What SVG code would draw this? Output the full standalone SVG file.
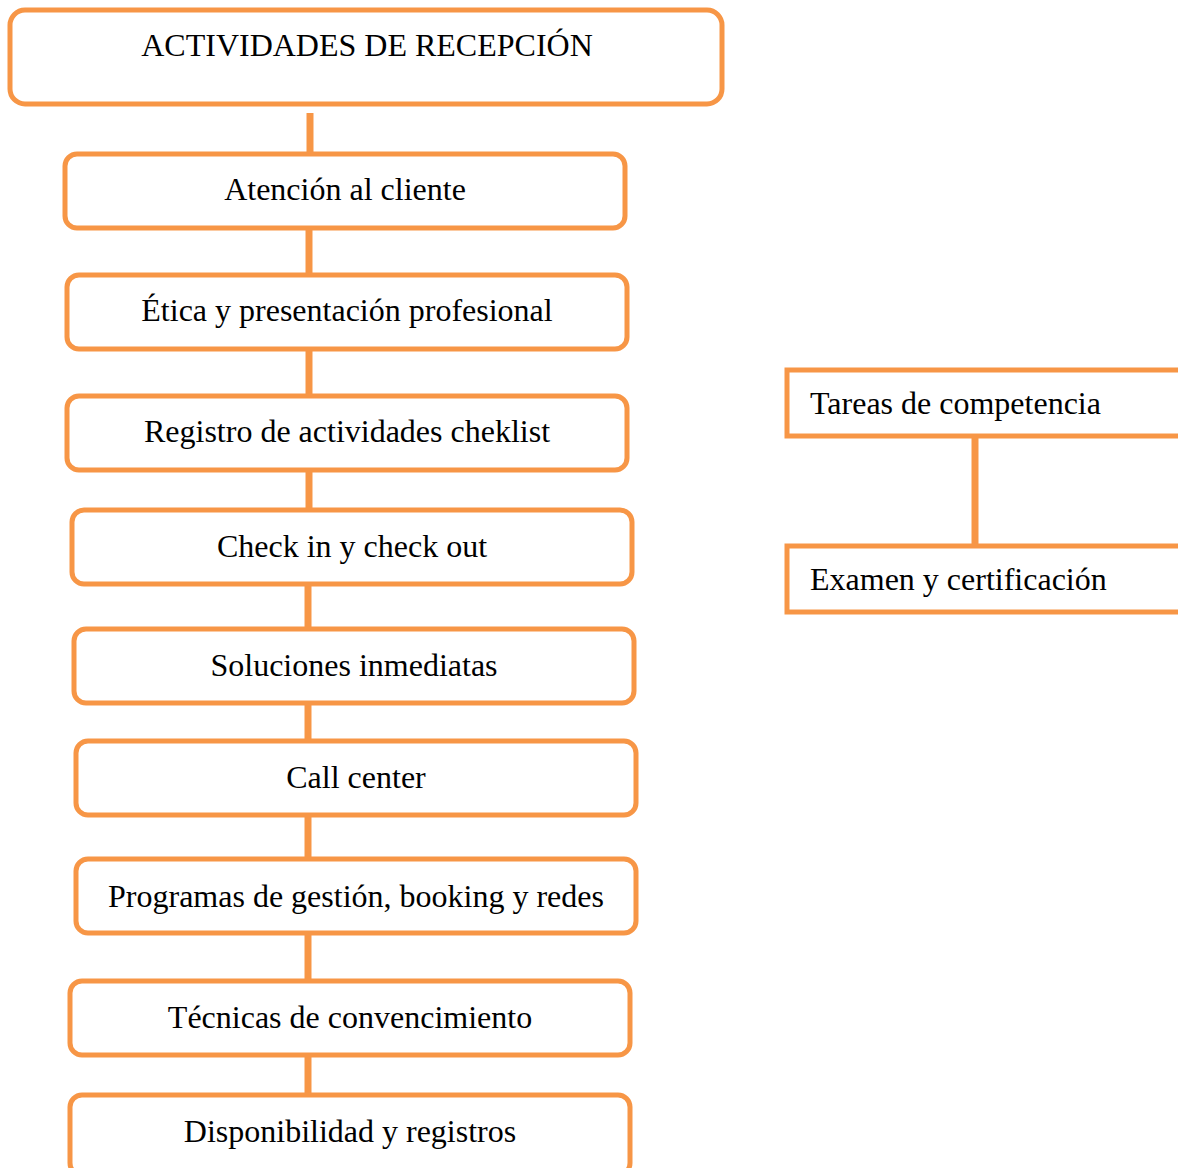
<svg xmlns="http://www.w3.org/2000/svg" width="1178" height="1168" viewBox="0 0 1178 1168">
<style>
.b{fill:#fff;stroke:#F79646;stroke-width:5}
.t{font-family:"Liberation Serif","Times New Roman",serif;font-size:32px;fill:#000}
.c{text-anchor:middle}
.l{stroke:#F79646;stroke-width:7;fill:none}
</style>
<rect width="1178" height="1168" fill="#fff"/>
<g id="connectors">
<line class="l" x1="310" y1="113" x2="310" y2="156"/>
<line class="l" x1="309" y1="228" x2="309" y2="277"/>
<line class="l" x1="309" y1="349" x2="309" y2="398"/>
<line class="l" x1="309" y1="470" x2="309" y2="512"/>
<line class="l" x1="308" y1="584" x2="308" y2="631"/>
<line class="l" x1="308" y1="703" x2="308" y2="743"/>
<line class="l" x1="308" y1="815" x2="308" y2="861"/>
<line class="l" x1="308" y1="933" x2="308" y2="983"/>
<line class="l" x1="308" y1="1055" x2="308" y2="1097"/>
<line class="l" x1="975" y1="436" x2="975" y2="548" stroke-width="6"/>
</g>
<g id="n0"><rect class="b" x="10" y="10" width="712" height="94" rx="15"/><text class="t c" x="367" y="56">ACTIVIDADES DE RECEPCIÓN</text></g>
<g id="n1"><rect class="b" x="65" y="154" width="560" height="74" rx="12"/><text class="t c" x="345" y="200">Atención al cliente</text></g>
<g id="n2"><rect class="b" x="67" y="275" width="560" height="74" rx="12"/><text class="t c" x="347" y="321">Ética y presentación profesional</text></g>
<g id="n3"><rect class="b" x="67" y="396" width="560" height="74" rx="12"/><text class="t c" x="347" y="442">Registro de actividades cheklist</text></g>
<g id="n4"><rect class="b" x="72" y="510" width="560" height="74" rx="12"/><text class="t c" x="352" y="557">Check in y check out</text></g>
<g id="n5"><rect class="b" x="74" y="629" width="560" height="74" rx="12"/><text class="t c" x="354" y="676">Soluciones inmediatas</text></g>
<g id="n6"><rect class="b" x="76" y="741" width="560" height="74" rx="12"/><text class="t c" x="356" y="788">Call center</text></g>
<g id="n7"><rect class="b" x="76" y="859" width="560" height="74" rx="12"/><text class="t c" x="356" y="907">Programas de gestión, booking y redes</text></g>
<g id="n8"><rect class="b" x="70" y="981" width="560" height="74" rx="12"/><text class="t c" x="350" y="1028">Técnicas de convencimiento</text></g>
<g id="n9"><rect class="b" x="70" y="1095" width="560" height="80" rx="12"/><text class="t c" x="350" y="1142">Disponibilidad y registros</text></g>
<g id="n10"><rect class="b" x="787" y="370" width="400" height="66"/><text class="t" x="810" y="414">Tareas de competencia</text></g>
<g id="n11"><rect class="b" x="787" y="546" width="400" height="66"/><text class="t" x="810" y="590">Examen y certificación</text></g>
</svg>
